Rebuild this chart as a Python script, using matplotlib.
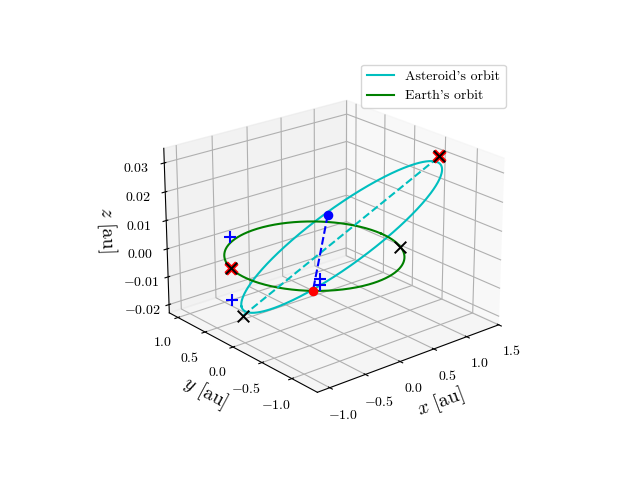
import numpy as np
import matplotlib.pyplot as plt

plt.rcParams['font.family'] = 'serif'
plt.rcParams['font.serif'] = ['cmr10']
plt.rcParams['mathtext.fontset'] = 'cm'
plt.rcParams['axes.formatter.use_mathtext'] = True

# asteroid orbit: perihelion direction, in-plane perpendicular, a, e
peri_dir = [-0.8, 0.56, -0.021]
perp_dir = [0.57, 0.82, -0.003]
a_ast = 1.11
e_ast = 0.26
r_earth = 1.0

# special points
apsides = [[-0.66, 0.46, -0.021], [1.13, -0.79, 0.033]]
earth_x = [[-0.96, 0.28, 0.0], [0.9, -0.43, 0.0]]
red_x = [[1.13, -0.79, 0.033], [-0.96, 0.28, 0.0]]
plus_pts = [[-0.96, 0.28, 0.011], [-0.96, 0.28, -0.011],
            [-0.6, -0.8, 0.004], [-0.6, -0.8, 0.002]]
blue_dot = [0.5, 0.35, 0.007]
red_dot = [-0.66, -0.75, 0.0]

P = np.array(peri_dir) / np.linalg.norm(peri_dir)
Q = np.array(perp_dir) - np.dot(perp_dir, P) * P
Q = Q / np.linalg.norm(Q)
nu = np.linspace(0, 2 * np.pi, 400)
r = a_ast * (1 - e_ast**2) / (1 + e_ast * np.cos(nu))
ast = np.outer(r * np.cos(nu), P) + np.outer(r * np.sin(nu), Q)

fig = plt.figure(figsize=(6.4, 4.8))
ax = fig.add_subplot(projection='3d', computed_zorder=False)
ax.plot(ast[:, 0], ast[:, 1], ast[:, 2], color='c', label="Asteroid's orbit")
ax.plot(r_earth * np.cos(nu), r_earth * np.sin(nu), 0 * nu, color='g', label="Earth's orbit")
ap = np.array(apsides)
ax.plot(ap[:, 0], ap[:, 1], ap[:, 2], 'c--')
ax.plot([blue_dot[0], red_dot[0]], [blue_dot[1], red_dot[1]], [blue_dot[2], red_dot[2]], 'b--')
for p in red_x:
    ax.scatter(*p, color='r', marker='x', s=60, linewidths=3.5, zorder=3)
for p in apsides + earth_x:
    ax.scatter(*p, color='k', marker='x', s=70, linewidths=1.4, zorder=4)
for p in plus_pts:
    ax.scatter(*p, color='b', marker='+', s=70, linewidths=1.5, zorder=4)
ax.scatter(*blue_dot, color='b', s=35, zorder=4)
ax.scatter(*red_dot, color='r', s=35, zorder=4)

ax.set_xlabel(r'$x$ [au]', fontsize=14)
ax.set_ylabel(r'$y$ [au]', fontsize=14)
ax.set_zlabel(r'$z$ [au]', fontsize=14)
ax.set_xticks([-1.0, -0.5, 0.0, 0.5, 1.0, 1.5])
ax.set_yticks([-1.0, -0.5, 0.0, 0.5, 1.0])
ax.set_zticks([-0.02, -0.01, 0.0, 0.01, 0.02, 0.03])
ax.set_zlim(-0.023, 0.035)
ax.view_init(elev=22, azim=-130)
ax.legend(loc='upper right')
plt.savefig('out.png', dpi=100)
